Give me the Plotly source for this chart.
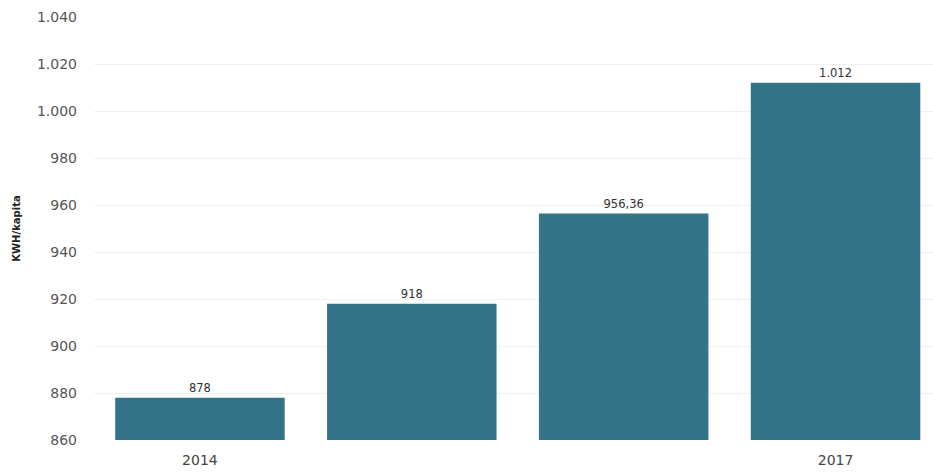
import plotly.graph_objects as go

years = ["2014", "2015", "2016", "2017"]
values = [878, 918, 956.36, 1012]
labels = ["878", "918", "956,36", "1.012"]
shown_ticks = ["2014", "2017"]
y_ticks = [860, 880, 900, 920, 940, 960, 980, 1000, 1020, 1040]

fig = go.Figure()
fig.add_trace(go.Bar(
    x=years, y=values, text=labels, textposition="outside",
    textfont=dict(size=11.5, color="#333333", family="DejaVu Sans"),
    marker=dict(color="#347488", line=dict(width=0)),
    width=0.8, cliponaxis=False,
))
fig.update_layout(
    width=933, height=472,
    margin=dict(l=94, r=0, t=17, b=32),
    plot_bgcolor="white", paper_bgcolor="white",
    separators=",.",
    showlegend=False,
    font=dict(family="DejaVu Sans", color="#555555"),
)
fig.update_xaxes(
    range=[-0.5, 3.46], tickmode="array", tickvals=shown_ticks,
    tickfont=dict(size=14, color="#444444"), showgrid=False, showline=False,
    ticks="", ticklen=0, ticklabelstandoff=10,
)
fig.update_yaxes(
    range=[860, 1040], tickmode="array", tickvals=y_ticks,
    tickformat=",d", tickfont=dict(size=14, color="#555555"),
    showgrid=True, gridcolor="#f0f0f0", gridwidth=1, zeroline=False,
    ticks="", ticklabelstandoff=16,
    title=dict(text="<b>KWH/kapita</b>", font=dict(size=10, color="#222222"), standoff=14),
)
fig.write_html("out.html")
